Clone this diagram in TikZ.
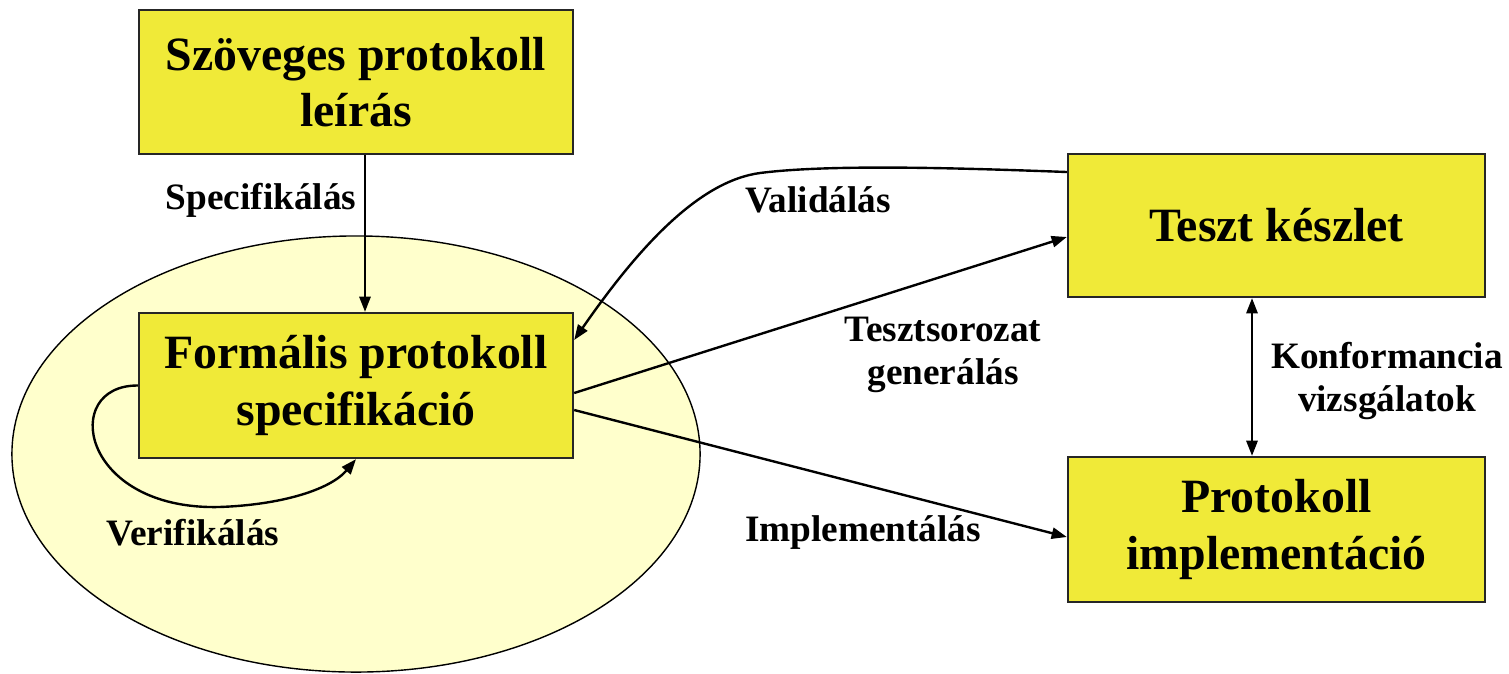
\documentclass[tikz,border=0pt]{standalone}
\usepackage{fontspec}
\setmainfont{Liberation Serif}
\usetikzlibrary{shapes.geometric,arrows.meta}
\definecolor{boxyellow}{RGB}{240,234,56}
\definecolor{paleyellow}{RGB}{255,255,204}
\begin{document}
\begin{tikzpicture}[x=0.025cm,y=-0.025cm,
  box/.style={draw=black!85, line width=1.6pt, fill=boxyellow, align=center,
    inner sep=0pt, font=\fontsize{34}{40}\selectfont\bfseries},
  lbl/.style={align=center, inner sep=0pt, font=\fontsize{26.5}{30.6}\selectfont\bfseries},
  conn/.style={line width=1.7pt, -{Triangle[length=0.38cm,width=0.28cm]}},
  dconn/.style={line width=1.7pt, {Triangle[length=0.38cm,width=0.28cm]}-{Triangle[length=0.38cm,width=0.28cm]}},
]
\useasboundingbox (0,0) rectangle (1509,673);

% formal domain
\node[ellipse, draw, line width=1pt, fill=paleyellow, minimum width=17.2cm,
  minimum height=10.9cm, inner sep=0pt] (domain) at (356,454) {};

% boxes
\node[box, minimum width=10.85cm, minimum height=3.6cm] (text) at (356,82)
  {Szöveges protokoll\\leírás};
\node[box, minimum width=10.85cm, minimum height=3.625cm] (spec) at (356,385.5)
  {Formális protokoll\\specifikáció};
\node[box, minimum width=10.425cm, minimum height=3.575cm] (tests) at (1276.5,225.5)
  {Teszt készlet};
\node[box, minimum width=10.425cm, minimum height=3.625cm] (impl) at (1276.5,529.5)
  {Protokoll\\implementáció};

% connectors
\draw[conn] ([shift={(9,0)}]text.south) -- ([shift={(9,0)}]spec.north);
\draw[conn] (spec.west) .. controls (60,385) and (80,510) .. (219,507)
  .. controls (280,505) and (330,490) .. (spec.south);
\draw[conn] ([shift={(0,-53.5)}]tests.west) .. controls (960,168) and (830,164)
  .. (760,173) .. controls (700,181) and (640,245) .. ([shift={(0,-45.5)}]spec.east);
\draw[conn] ([shift={(0,7.5)}]spec.east) -- ([shift={(0,11.5)}]tests.west);
\draw[conn] ([shift={(0,24.5)}]spec.east) -- ([shift={(0,7.5)}]impl.west);
\draw[dconn] ([shift={(-24.5,0)}]tests.south) -- ([shift={(-24.5,0)}]impl.north);

% labels
\node[lbl] (lspec) at (261,200) {Specifikálás};
\node[lbl] (lver) at (193,533) {Verifikálás};
\node[lbl] (lval) at (818,200) {Validálás};
\node[lbl] (lgen) at (943,355) {Tesztsorozat\\generálás};
\node[lbl] (limp) at (863,533) {Implementálás};
\node[lbl] (lconf) at (1387,381) {Konformancia\\vizsgálatok};
\end{tikzpicture}
\end{document}
